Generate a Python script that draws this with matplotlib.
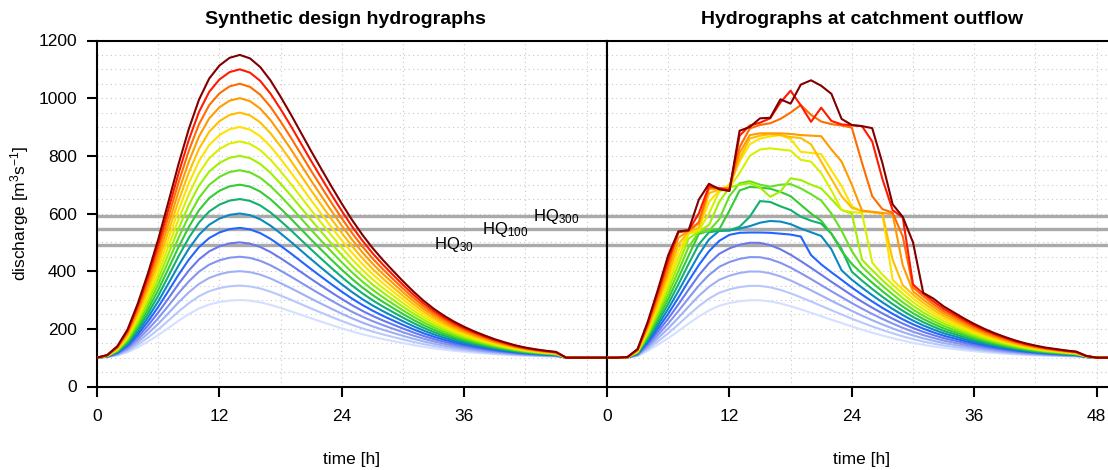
import numpy as np
import matplotlib.pyplot as plt
from matplotlib.ticker import MultipleLocator

plt.rcParams["font.family"] = ["Liberation Sans", "DejaVu Sans"]
plt.rcParams["mathtext.default"] = "regular"

# time axis [h]
hours = list(range(51))

# peak discharge of every design hydrograph [m3/s]
peaks = [300, 350, 400, 450, 500, 550, 600, 650, 700, 750,
         800, 850, 900, 950, 1000, 1050, 1100, 1150]
colors = ["#d4e0ff", "#b8c8fc", "#9fb0f6", "#8495f0", "#6a78ec", "#2266ff",
          "#0a88c0", "#10b070", "#33cc33", "#66e020", "#a0f000", "#d8f000",
          "#ffe200", "#ffbf00", "#ff9a00", "#ff6c00", "#ff1a00", "#800000"]

# design hydrograph for the 1150 m3/s peak (others scale with the peak)
design_1150 = [100, 109, 140, 198, 288, 393, 510, 640, 772, 893, 995, 1068,
               1113, 1140, 1150, 1138, 1108, 1062, 1005, 944, 880, 816, 754,
               693, 634, 578, 527, 481, 440, 402, 365, 330, 298, 270, 246,
               225, 207, 191, 177, 164, 153, 143, 135, 129, 124, 120, 100,
               100, 100, 100, 100]

# routed outflow without overflow losses, 1150 m3/s event
outflow_1150 = [100, 100, 102, 130, 225, 337, 455, 585, 720, 850, 960, 1045,
                1095, 1128, 1146, 1145, 1124, 1087, 1037, 979, 918, 855, 791,
                730, 668, 610, 555, 503, 455, 410, 370, 335, 305, 278, 257,
                236, 217, 200, 185, 172, 160, 150, 142, 135, 130, 125, 121,
                106, 100, 100, 100]
base_flow = 100

# outflow of the events affected by overflow, hourly from t = 6 h
routed_start = 6
routed_550 = [252, 308, 366, 421, 469, 505, 526, 533, 534, 534, 533, 530,
              527, 520, 456]
routed_600 = [269, 331, 395, 457, 510, 540, 541, 548, 556, 568, 574, 572,
              563, 548, 535, 522, 476, 403]
routed_650 = [286, 354, 425, 493, 535, 540, 542, 554, 589, 643, 640, 625,
              612, 589, 575, 565, 530, 476, 398]
routed_700 = [303, 377, 454, 529, 540, 545, 610, 680, 692, 690, 686, 675,
              660, 630, 600, 575, 530, 470, 425]
routed_750 = [320, 400, 484, 535, 540, 580, 660, 705, 712, 700, 693, 700,
              702, 687, 667, 645, 600, 540, 470, 416]
routed_800 = [337, 423, 513, 538, 560, 640, 690, 700, 705, 690, 658, 676,
              722, 716, 700, 687, 650, 612, 600, 440]
routed_850 = [354, 446, 530, 540, 600, 676, 690, 740, 800, 822, 826, 822,
              818, 786, 780, 740, 680, 612, 605, 602, 430, 388]
routed_900 = [370, 470, 535, 545, 640, 680, 700, 780, 840, 860, 867, 872,
              858, 814, 810, 806, 750, 695, 625, 607, 605, 600, 370]
routed_950 = [387, 493, 538, 550, 670, 684, 690, 790, 860, 870, 875, 872,
              865, 862, 840, 780, 720, 660, 620, 608, 604, 600, 440, 351]
routed_1000 = [404, 516, 540, 565, 685, 686, 688, 810, 872, 878, 878, 878,
               876, 872, 870, 868, 822, 780, 700, 610, 606, 602, 598, 420,
               330]
routed_1050 = [421, 535, 540, 570, 690, 688, 685, 830, 895, 907, 913, 928,
               950, 976, 942, 919, 910, 905, 898, 776, 660, 615, 603, 520,
               344, 313]
routed_1100 = [438, 536, 541, 600, 695, 688, 680, 870, 905, 915, 930, 985,
               1026, 975, 918, 967, 921, 909, 906, 903, 850, 720, 612, 586,
               354, 322]
routed_1150 = [455, 538, 542, 648, 703, 684, 678, 887, 900, 930, 932, 996,
               981, 1047, 1062, 1043, 1015, 928, 907, 903, 896, 775, 632,
               588, 500, 325]

routed = {550: routed_550, 600: routed_600, 650: routed_650, 700: routed_700,
          750: routed_750, 800: routed_800, 850: routed_850, 900: routed_900,
          950: routed_950, 1000: routed_1000, 1050: routed_1050,
          1100: routed_1100, 1150: routed_1150}

# flood statistics
hq_levels = [492, 545, 590]
hq_names = ["HQ$_{30}$", "HQ$_{100}$", "HQ$_{300}$"]
hq_label_t = [35, 40, 45]

W, H = 1108, 470
fig = plt.figure(figsize=(W / 100, H / 100), dpi=100)
ax_l = fig.add_axes([97 / W, 83.5 / H, 510 / W, 346 / H])
ax_r = fig.add_axes([607 / W, 83.5 / H, 510 / W, 346 / H])

t = np.array(hours)
design = np.array(design_1150, dtype=float)
outflow = np.array(outflow_1150, dtype=float)
scale_ref = design_1150[14] - base_flow

for p, c in zip(peaks, colors):
    f = (p - base_flow) / scale_ref
    ax_l.plot(t, base_flow + (design - base_flow) * f, color=c, lw=1.5,
              zorder=3)
    q = base_flow + (outflow - base_flow) * f
    if p in routed:
        seg = routed[p]
        q[routed_start:routed_start + len(seg)] = seg
    ax_r.plot(t, q, color=c, lw=1.5, zorder=3)

for ax in (ax_l, ax_r):
    ax.set_xlim(0, 50)
    ax.set_ylim(0, 1200)
    ax.xaxis.set_major_locator(MultipleLocator(12))
    ax.xaxis.set_minor_locator(MultipleLocator(6))
    ax.yaxis.set_major_locator(MultipleLocator(200))
    ax.yaxis.set_minor_locator(MultipleLocator(50))
    ax.grid(which="both", color="#c8c8c8", lw=0.8, ls=(0, (1, 3)), zorder=0)
    for lvl in hq_levels:
        ax.axhline(lvl, color="#aaaaaa", lw=2.4, zorder=2)
    for s in ax.spines.values():
        s.set_linewidth(1.5)
    ax.tick_params(which="major", direction="out", length=7.5, width=1.5,
                   labelsize=12.5, pad=9)
    ax.tick_params(which="minor", length=0)

ax_l.set_xticks([0, 12, 24, 36])
ax_r.set_xticks([0, 12, 24, 36, 48])
ax_r.tick_params(axis="y", which="both", left=False, labelleft=False)
ax_l.tick_params(axis="y", pad=7)

for lvl, name, tx in zip(hq_levels, hq_names, hq_label_t):
    ax_l.text(tx, lvl, name, ha="center", va="center", fontsize=12, zorder=4)

ax_l.set_ylabel("discharge [m$^3$s$^{-1}$]", fontsize=12.5, labelpad=5)
for ax in (ax_l, ax_r):
    ax.set_xlabel("time [h]", fontsize=12.5, labelpad=20)

fig.text(345 / W, 1 - 20 / H, "Synthetic design hydrographs",
         ha="center", va="center", fontsize=14, fontweight="bold")
fig.text(862 / W, 1 - 20 / H, "Hydrographs at catchment outflow",
         ha="center", va="center", fontsize=14, fontweight="bold")

fig.savefig("out.png", dpi=100)
